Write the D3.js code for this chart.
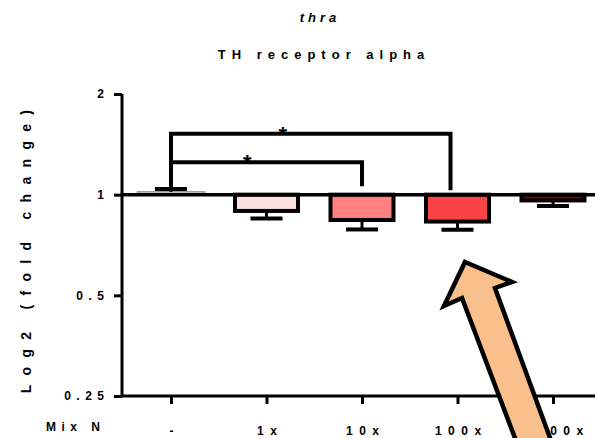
<!DOCTYPE html>
<html>
<meta charset="utf-8">
<head>
  <script src="https://d3js.org/d3.v7.js"></script>
  <style>
    body { margin: 0; background: #fff; }
    text { font-family: "Liberation Sans", Arial, sans-serif; font-weight: bold; fill: #000; }
  </style>
</head>
<body>
  <svg id="graph" width="595" height="438"></svg>
  <script>
    // data
    var groups = ["-", "1x", "10x", "100x", "1000x"];
    var means = [1.02, 0.894, 0.840, 0.831, 0.961];
    var errEnds = [1.04, 0.849, 0.787, 0.786, 0.925];
    var barFills = ["#e6e6e6", "#ffe0e0", "#ff8080", "#f84444", "#8b0000"];
    var yTicks = [0.25, 0.5, 1, 2];
    var tickText = ["0.25", "0.5", "1", "2"];

    // significance brackets: from group, to group, bar height (fold), drop end (fold)
    var brackets = [
      {from: "-", to: "10x", level: 1.25, end: 1.06, shift: 0},
      {from: "-", to: "100x", level: 1.52, end: 1.03, shift: -7}
    ];

    var svg = d3.select("svg#graph");
    var plotL = 122, plotR = 595, plotT = 94, plotB = 396;

    var x = d3.scalePoint().domain(groups).range([171, 553]);
    var barW = 67;
    var y = d3.scaleLog().base(2).domain([0.25, 2]).range([plotB, plotT]);

    // titles
    svg.append("text").attr("x", 320).attr("y", 22)
      .attr("text-anchor", "middle").style("font-style", "italic")
      .style("font-size", "13px").style("letter-spacing", "4px")
      .text("thra");
    svg.append("text").attr("x", 324).attr("y", 59)
      .attr("text-anchor", "middle")
      .style("font-size", "13px").style("letter-spacing", "6px")
      .text("TH receptor alpha");

    // y axis
    var yAxis = svg.append("g").attr("transform", `translate(${plotL},0)`)
      .call(d3.axisLeft(y).tickValues(yTicks).tickSize(8).tickPadding(10)
        .tickFormat((d, i) => tickText[i]));
    yAxis.select(".domain").attr("d", `M0,${plotT}V${plotB}`).attr("stroke-width", 3);
    yAxis.selectAll(".tick line").attr("stroke-width", 3);
    yAxis.selectAll(".tick text").style("font-size", "12px").style("letter-spacing", "5.5px")
      .attr("font-family", null).attr("dx", 5.5);

    // x axis
    var xAxis = svg.append("g").attr("transform", `translate(0,${plotB})`)
      .call(d3.axisBottom(x).tickSize(8));
    xAxis.select(".domain").attr("d", `M${plotL},0H${plotR}`).attr("stroke-width", 3);
    xAxis.selectAll(".tick line").attr("stroke-width", 3);
    xAxis.selectAll(".tick text").style("font-size", "12px").style("letter-spacing", "6.5px")
      .attr("font-family", null).attr("y", 39).attr("dy", null).attr("dx", 3.25);

    svg.append("text").attr("x", 46).attr("y", 431)
      .style("font-size", "12px").style("letter-spacing", "5.5px").text("Mix N");

    svg.append("text")
      .attr("transform", `translate(31,${(plotT + plotB) / 2 + 2}) rotate(-90)`)
      .attr("text-anchor", "middle")
      .style("font-size", "14px").style("letter-spacing", "9.3px")
      .text("Log2 (fold change)");

    // bars
    svg.selectAll("rect.bar").data(groups).enter().append("rect")
      .attr("class", "bar")
      .attr("x", d => x(d) - barW / 2 + (d === "-" ? 0 : 2))
      .attr("width", d => d === "-" ? barW : barW - 4)
      .attr("y", (d, i) => Math.min(y(means[i]), y(1)))
      .attr("height", (d, i) => Math.abs(y(means[i]) - y(1)))
      .attr("fill", (d, i) => barFills[i])
      .attr("stroke", (d, i) => i === 0 ? "#999" : "#000")
      .attr("stroke-width", (d, i) => i === 0 ? 1.5 : 4);

    // error bars
    var eb = svg.selectAll("g.err").data(groups).enter().append("g").attr("class", "err");
    eb.append("line")
      .attr("x1", d => x(d)).attr("x2", d => x(d))
      .attr("y1", (d, i) => y(means[i])).attr("y2", (d, i) => y(errEnds[i]))
      .attr("stroke", "#000").attr("stroke-width", 3);
    eb.append("line")
      .attr("x1", d => x(d) - 16).attr("x2", d => x(d) + 16)
      .attr("y1", (d, i) => y(errEnds[i])).attr("y2", (d, i) => y(errEnds[i]))
      .attr("stroke", "#000").attr("stroke-width", 4);

    // baseline at 1
    svg.append("line").attr("x1", plotL).attr("x2", plotR)
      .attr("y1", y(1)).attr("y2", y(1))
      .attr("stroke", "#000").attr("stroke-width", 3.5);

    // brackets
    brackets.forEach(function(b) {
      var x0 = x(b.from), x1 = x(b.to) + b.shift;
      svg.append("path")
        .attr("d", `M${x0},${y(errEnds[0])}V${y(b.level)}H${x1}V${y(b.end)}`)
        .attr("fill", "none").attr("stroke", "#000").attr("stroke-width", 4);
      svg.append("text").attr("x", x0 + 0.4 * (x1 - x0)).attr("y", y(b.level) + 8)
        .attr("text-anchor", "middle").style("font-size", "22px").text("*");
    });

    // annotation arrow (overlaid on the figure)
    var arrowPts = [[465, 262], [512, 282], [495, 288], [553, 446], [518, 446], [462, 298], [444, 306]];
    svg.append("path")
      .attr("d", d3.line()(arrowPts) + "Z")
      .attr("fill", "#f9c08e").attr("stroke", "#000")
      .attr("stroke-width", 4.5).attr("stroke-linejoin", "miter");
  </script>
</body>
</html>
